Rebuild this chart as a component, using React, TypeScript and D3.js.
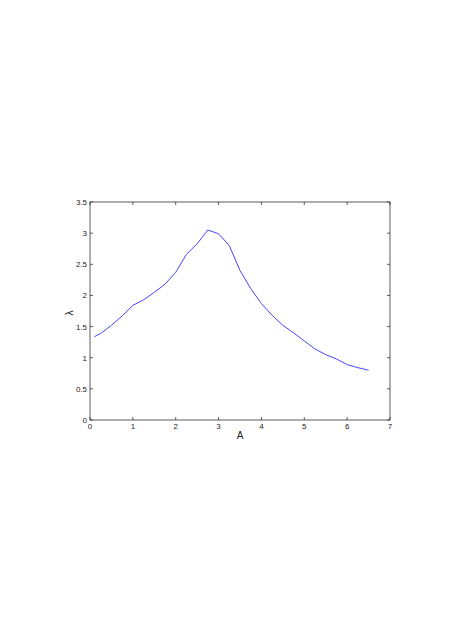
import React from "react";
import * as d3 from "d3";

const aValues = [0.1, 0.25, 0.5, 0.75, 1, 1.25, 1.5, 1.75, 2, 2.25, 2.5, 2.75, 3, 3.25, 3.5, 3.75, 4, 4.25, 4.5, 4.75, 5, 5.25, 5.5, 5.75, 6, 6.25, 6.5];
const lambdaValues = [1.336, 1.39, 1.52, 1.67, 1.84, 1.93, 2.05, 2.18, 2.37, 2.66, 2.83, 3.05, 2.99, 2.8, 2.4, 2.11, 1.87, 1.68, 1.52, 1.4, 1.27, 1.14, 1.05, 0.98, 0.89, 0.84, 0.8];
const xTicks = [0, 1, 2, 3, 4, 5, 6, 7];
const yTicks = [0, 0.5, 1, 1.5, 2, 2.5, 3, 3.5];

export default function App() {
  const W = 449, H = 635;
  const left = 90, right = 390, top = 202, bottom = 420;
  const x = d3.scaleLinear().domain([0, 7]).range([left, right]);
  const y = d3.scaleLinear().domain([0, 3.5]).range([bottom, top]);
  const line = d3.line<number>().x((_, i) => x(aValues[i])).y((d) => y(d));
  const font = "'Liberation Sans', Arial, sans-serif";
  const tl = 3;
  return (
    <svg width={W} height={H} style={{ position: "absolute", left: 0, top: 0 }}>
      <rect x={0} y={0} width={W} height={H} fill="#fff" />
      <rect x={left} y={top} width={right - left} height={bottom - top} fill="none" stroke="#333" strokeWidth={0.8} />
      {xTicks.map((t) => (
        <g key={"x" + t}>
          <line x1={x(t)} x2={x(t)} y1={bottom} y2={bottom - tl} stroke="#333" strokeWidth={0.8} />
          <line x1={x(t)} x2={x(t)} y1={top} y2={top + tl} stroke="#333" strokeWidth={0.8} />
          <text x={x(t)} y={bottom + 9} fontSize={8} fontFamily={font} textAnchor="middle" fill="#222">{t}</text>
        </g>
      ))}
      {yTicks.map((t) => (
        <g key={"y" + t}>
          <line x1={left} x2={left + tl} y1={y(t)} y2={y(t)} stroke="#333" strokeWidth={0.8} />
          <line x1={right} x2={right - tl} y1={y(t)} y2={y(t)} stroke="#333" strokeWidth={0.8} />
          <text x={left - 3} y={y(t) + 3} fontSize={8} fontFamily={font} textAnchor="end" fill="#222">{t}</text>
        </g>
      ))}
      <path d={line(lambdaValues) || ""} fill="none" stroke="#4646ff" strokeWidth={1} />
      <text x={(left + right) / 2} y={439} fontSize={10} fontFamily={font} textAnchor="middle" fill="#222">A</text>
      <text transform={`translate(73, ${(top + bottom) / 2 + 2}) rotate(-90)`} fontSize={10} fontFamily={font} textAnchor="middle" fill="#222">λ</text>
    </svg>
  );
}
